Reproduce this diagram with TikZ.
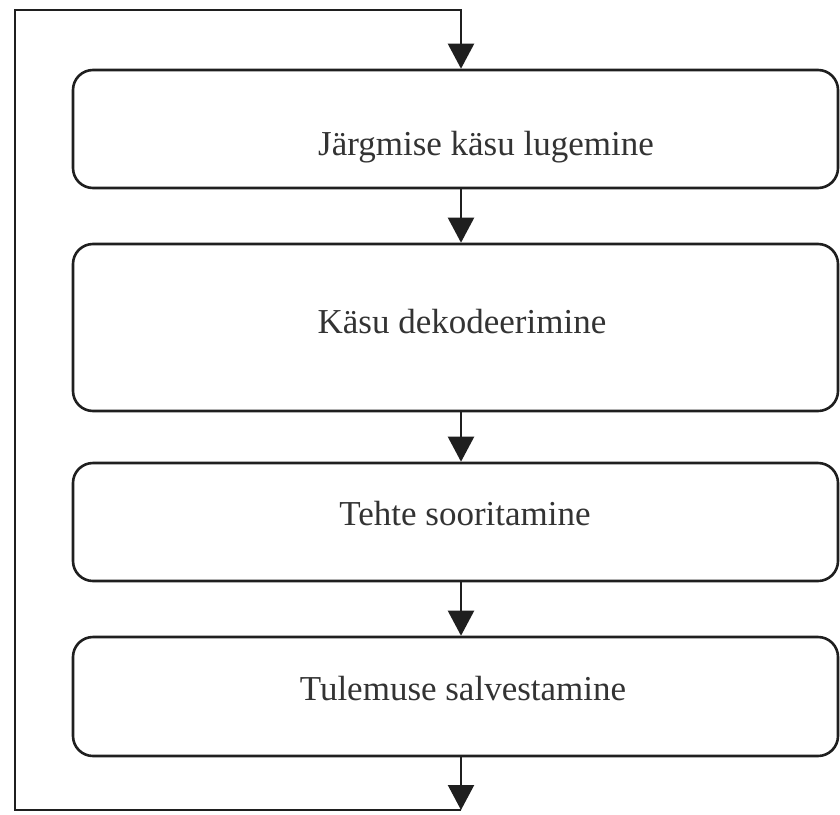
\documentclass[tikz,border=0pt]{standalone}
\usepackage{fontspec}
\setmainfont{Liberation Serif}
\usetikzlibrary{arrows.meta}
\begin{document}
\begin{tikzpicture}[x=1pt,y=-1pt,
  box/.style={draw=black!88, line width=2.6pt, rounded corners=20pt, inner sep=0pt, minimum width=765pt},
  lbl/.style={anchor=base, inner sep=0pt, font=\fontsize{35}{40}\selectfont, text=black!80},
  conn/.style={draw=black!88, line width=2.2pt},
  arr/.style={conn, -{Triangle[width=26pt,length=25pt]}}]
\useasboundingbox (0,0) rectangle (840,814);
\node[box, minimum height=118pt] (b1) at (455.5,129) {};
\node[box, minimum height=167pt] (b2) at (455.5,327.5) {};
\node[box, minimum height=118pt] (b3) at (455.5,522) {};
\node[box, minimum height=119pt] (b4) at (455.5,696.5) {};
\node[lbl] (t1) at (486,155) {Järgmise käsu lugemine};
\node[lbl] (t2) at (462,333) {Käsu dekodeerimine};
\node[lbl] (t3) at (465,525) {Tehte sooritamine};
\node[lbl] (t4) at (463,700) {Tulemuse salvestamine};
\coordinate (ax) at (461,0);
\coordinate (tl) at (15,10);
\coordinate (tr) at (461,10);
\coordinate (bl) at (15,810);
\coordinate (bm) at (461,810);
\draw[arr] (b1.south -| ax) -- (b2.north -| ax);
\draw[arr] (b2.south -| ax) -- (b3.north -| ax);
\draw[arr] (b3.south -| ax) -- (b4.north -| ax);
\draw[arr] (b4.south -| ax) -- (bm);
\draw[arr] (bm) -- (bl) -- (tl) -- (tr) -- (b1.north -| ax);
\end{tikzpicture}
\end{document}
